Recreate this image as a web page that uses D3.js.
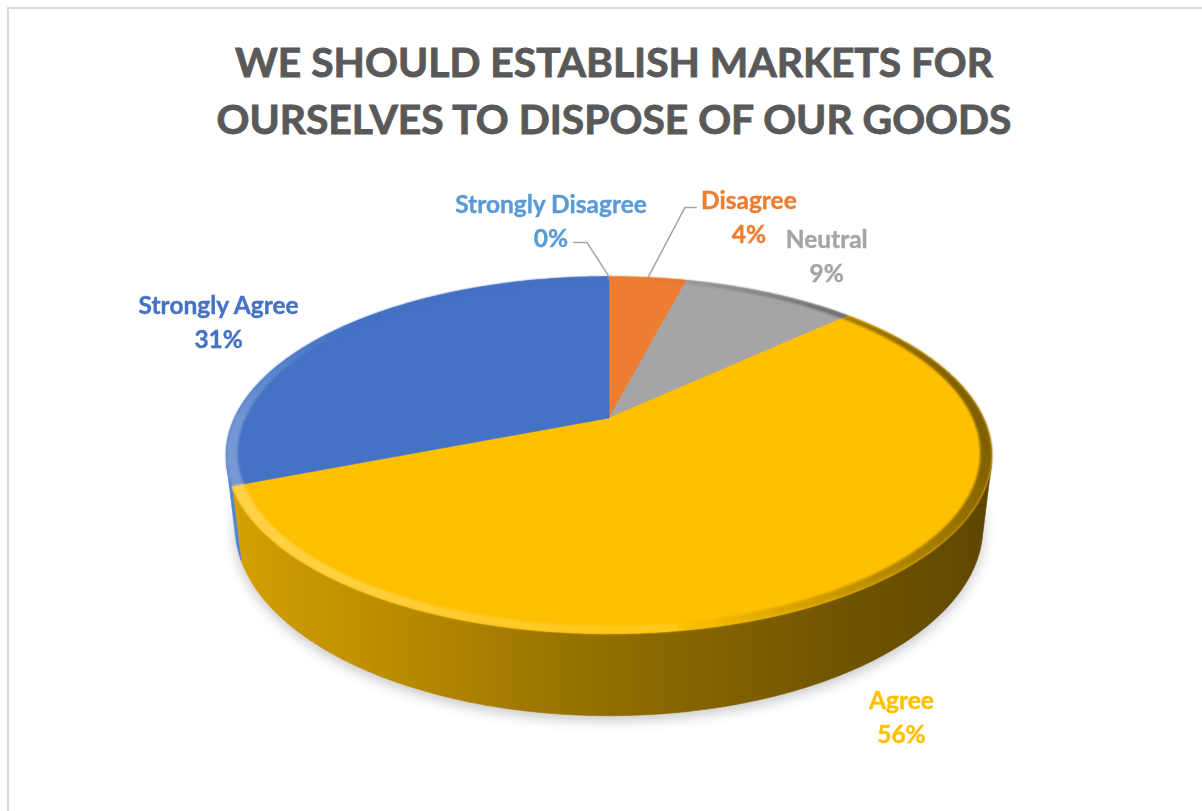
<!DOCTYPE html>
<html>
<head>
<meta charset="utf-8">
<script src="https://cdn.jsdelivr.net/npm/d3@7"></script>
<style>
  html, body { margin: 0; padding: 0; background: #ffffff; }
  svg { display: block; }
</style>
</head>
<body>
<script>
// ---- data -------------------------------------------------------------
const categories = ["Strongly Disagree", "Disagree", "Neutral", "Agree", "Strongly Agree"];
const shares = [0, 4, 9, 56, 31];
const percentLabels = ["0%", "4%", "9%", "56%", "31%"];
const titleLines = ["WE SHOULD ESTABLISH MARKETS FOR", "OURSELVES TO DISPOSE OF OUR GOODS"];

// ---- style ------------------------------------------------------------
const width = 1202, height = 811;
const topColor = {
  "Strongly Disagree": "#5B9BD5",
  "Disagree": "#ED7D31",
  "Neutral": "#A5A5A5",
  "Agree": "#FFC000",
  "Strongly Agree": "#4472C4"
};
// wall colour on the lit (left) side of the cylinder
const sideColor = {
  "Strongly Disagree": "#5B9BD5",
  "Disagree": "#C86420",
  "Neutral": "#8C8C8C",
  "Agree": "#D9A300",
  "Strongly Agree": "#4D86DF"
};
const labelColor = topColor;
const fontFamily = "Lato, 'Open Sans', 'DejaVu Sans', sans-serif";

// label placement relative to each slice's mid-angle rim point
const labelOffset = {
  "Strongly Disagree": [-58, -64],
  "Disagree": [101, -69],
  "Neutral": [56, -45],
  "Agree": [49, 116],
  "Strongly Agree": [-113, -18]
};
// leader lines: [start, elbow] relative to the rim point (rim point is the end)
const leaderPath = {
  "Strongly Disagree": [[-36, -34], [-22, -34]],
  "Disagree": [[49, -70], [37, -70]]
};

// ---- perspective view of the pie disc --------------------------------
const view = {
  cx: 609, cy: 418,       // screen position of the pie centre
  focal: 1603,            // focal length in px
  dist: 4.28,             // camera distance, in pie radii
  elev: Math.asin(0.456), // camera elevation
  depth: 0.2156           // slab thickness, in pie radii
};
const sinE = Math.sin(view.elev), cosE = Math.cos(view.elev);

// theta: clockwise from 12 o'clock (d3.pie convention); r: radius fraction; y: height (0 = top face)
function project(theta, r, y) {
  const u = r * Math.sin(theta), v = r * Math.cos(theta);
  const yc = y * cosE + v * sinE;
  const zc = view.dist + v * cosE - y * sinE;
  return [view.cx + view.focal * u / zc, view.cy - view.focal * yc / zc];
}

// walls face the camera only on this angular range
const visLimit = Math.acos(-1 / (view.dist * cosE));
const visMin = visLimit, visMax = 2 * Math.PI - visLimit;

const arcs = d3.pie().sort(null).value(d => d)(shares)
  .map((a, i) => Object.assign(a, { name: categories[i], label: percentLabels[i] }));

function sampleAngles(a0, a1, stepDeg = 0.5) {
  const n = Math.max(2, Math.ceil(Math.abs(a1 - a0) / (stepDeg * Math.PI / 180)) + 1);
  return d3.range(n).map(k => a0 + (a1 - a0) * k / (n - 1));
}

const line = d3.line();

const svg = d3.select("body").append("svg")
  .attr("width", width).attr("height", height)
  .attr("viewBox", `0 0 ${width} ${height}`);

const defs = svg.append("defs");
defs.append("filter").attr("id", "baseShadow")
  .attr("x", "-20%").attr("y", "-20%").attr("width", "140%").attr("height", "140%")
  .append("feGaussianBlur").attr("stdDeviation", 7);
defs.append("filter").attr("id", "soft")
  .append("feGaussianBlur").attr("stdDeviation", 1.1);

// chart frame
svg.append("rect")
  .attr("x", 8).attr("y", 8).attr("width", width + 40).attr("height", height + 40)
  .attr("fill", "#ffffff").attr("stroke", "#d9d9d9").attr("stroke-width", 2);

// ---- title --------------------------------------------------------------
const titleWidths = [758, 795];
svg.append("g").selectAll("text").data(titleLines).join("text")
  .attr("x", 614)
  .attr("y", (d, i) => 77 + i * 57)
  .attr("text-anchor", "middle")
  .attr("font-family", fontFamily)
  .attr("font-weight", 700)
  .attr("font-size", 41)
  .attr("fill", "#595959")
  .attr("stroke", "#595959").attr("stroke-width", 0.9)
  .attr("textLength", (d, i) => titleWidths[i])
  .attr("lengthAdjust", "spacingAndGlyphs")
  .text(d => d);

// ---- soft shadow under the slab -----------------------------------------
const baseRing = sampleAngles(0, 2 * Math.PI, 2).map(t => project(t, 1.0, -view.depth));
svg.append("path")
  .attr("d", line(baseRing.map(p => [p[0], p[1] + 4])) + "Z")
  .attr("fill", "#000").attr("opacity", 0.24)
  .attr("filter", "url(#baseShadow)");

// ---- side walls -----------------------------------------------------------
const wallFactor = d3.scaleLinear().domain([-1, -0.5, 0, 0.5, 1]).range([1, 0.87, 0.67, 0.52, 0.42]).clamp(true);
function wallColor(name, theta) {
  const c = d3.rgb(sideColor[name]);
  const f = wallFactor(Math.sin(theta));
  return d3.rgb(c.r * f, c.g * f, c.b * f).formatHex();
}

const walls = svg.append("g");
arcs.forEach((a, i) => {
  const a0 = Math.max(a.startAngle, visMin), a1 = Math.min(a.endAngle, visMax);
  if (a1 <= a0) return;
  const angles = sampleAngles(a0, a1);
  const topPts = angles.map(t => project(t, 1, 0));
  const botPts = angles.slice().reverse().map(t => project(t, 1, -view.depth));
  const pts = topPts.concat(botPts);
  const xs = pts.map(p => p[0]);
  const x0 = d3.min(xs), x1 = d3.max(xs);
  const gid = "wall" + i;
  const grad = defs.append("linearGradient").attr("id", gid)
    .attr("gradientUnits", "userSpaceOnUse")
    .attr("x1", x0).attr("x2", x1).attr("y1", 0).attr("y2", 0);
  const stops = sampleAngles(a0, a1, 3).map(t => ({
    off: x1 > x0 ? (project(t, 1, -view.depth / 2)[0] - x0) / (x1 - x0) : 0,
    col: wallColor(a.name, t)
  })).sort((p, q) => p.off - q.off);
  grad.selectAll("stop").data(stops).join("stop")
    .attr("offset", d => Math.max(0, Math.min(1, d.off)))
    .attr("stop-color", d => d.col);
  walls.append("path")
    .attr("d", line(pts) + "Z")
    .attr("fill", `url(#${gid})`)
    .attr("stroke", `url(#${gid})`).attr("stroke-width", 0.6);
});

// ---- top faces -------------------------------------------------------------
const tops = svg.append("g");
arcs.forEach(a => {
  if (a.endAngle - a.startAngle <= 0) return;
  const pts = [project(0, 0, 0)].concat(sampleAngles(a.startAngle, a.endAngle).map(t => project(t, 1, 0)));
  tops.append("path")
    .attr("d", line(pts) + "Z")
    .attr("fill", topColor[a.name])
    .attr("stroke", topColor[a.name]).attr("stroke-width", 0.6);
});

// ---- rounded rim bevel on the top face --------------------------------------
function rimLight(theta) {
  const s = Math.sin(theta), c = Math.cos(theta);
  const front = Math.max(0, -c), left = Math.max(0, -s);
  if (s > 0.15) return -Math.min(1, (s - 0.15) * 1.1);
  return Math.min(1, 0.35 * front + 0.8 * left * Math.max(0, 1 - Math.max(0, c) * 1.6));
}

const bevel = svg.append("g").attr("filter", "url(#soft)");
arcs.forEach((a, i) => {
  if (a.endAngle - a.startAngle <= 0) return;
  const clipId = "clip" + i;
  defs.append("clipPath").attr("id", clipId).append("path")
    .attr("d", line([project(0, 0, 0)].concat(sampleAngles(a.startAngle, a.endAngle).map(t => project(t, 1, 0)))) + "Z");
  const g = bevel.append("g").attr("clip-path", `url(#${clipId})`);
  const base = d3.rgb(topColor[a.name]);
  const angles = sampleAngles(a.startAngle, a.endAngle, 1);
  for (let k = 0; k < angles.length - 1; k++) {
    const t0 = angles[k], t1 = angles[k + 1], tm = (t0 + t1) / 2;
    const L = rimLight(tm);
    const col = L >= 0
      ? d3.interpolateRgb(base, "#ffffff")(0.32 * L)
      : d3.interpolateRgb(base, base.darker(2.2))(-L);
    const quad = [project(t0, 0.972, 0), project(t1, 0.972, 0), project(t1, 1.01, 0), project(t0, 1.01, 0)];
    g.append("path").attr("d", line(quad) + "Z")
      .attr("fill", col).attr("stroke", col).attr("stroke-width", 0.8);
  }
});

// ---- leader lines ------------------------------------------------------------
const rimMid = a => project((a.startAngle + a.endAngle) / 2, 1, 0);
const leaders = svg.append("g");
arcs.forEach(a => {
  const lp = leaderPath[a.name];
  if (!lp) return;
  const r = rimMid(a);
  const pts = lp.map(o => [r[0] + o[0], r[1] + o[1]]).concat([r]);
  leaders.append("path").attr("d", line(pts))
    .attr("fill", "none").attr("stroke", "#A6A6A6").attr("stroke-width", 1.5);
});

// ---- data labels ---------------------------------------------------------------
const labels = svg.append("g")
  .attr("font-family", fontFamily).attr("font-weight", 700).attr("font-size", 24.5)
  .attr("text-anchor", "middle");
arcs.forEach(a => {
  const r = rimMid(a);
  const o = labelOffset[a.name];
  const t = labels.append("text")
    .attr("x", r[0] + o[0]).attr("y", r[1] + o[1])
    .attr("fill", labelColor[a.name])
    .attr("stroke", labelColor[a.name]).attr("stroke-width", 0.4);
  t.append("tspan").attr("x", r[0] + o[0]).attr("dy", 0).text(a.name);
  t.append("tspan").attr("x", r[0] + o[0]).attr("dy", 34).text(a.label);
});
</script>
</body>
</html>
